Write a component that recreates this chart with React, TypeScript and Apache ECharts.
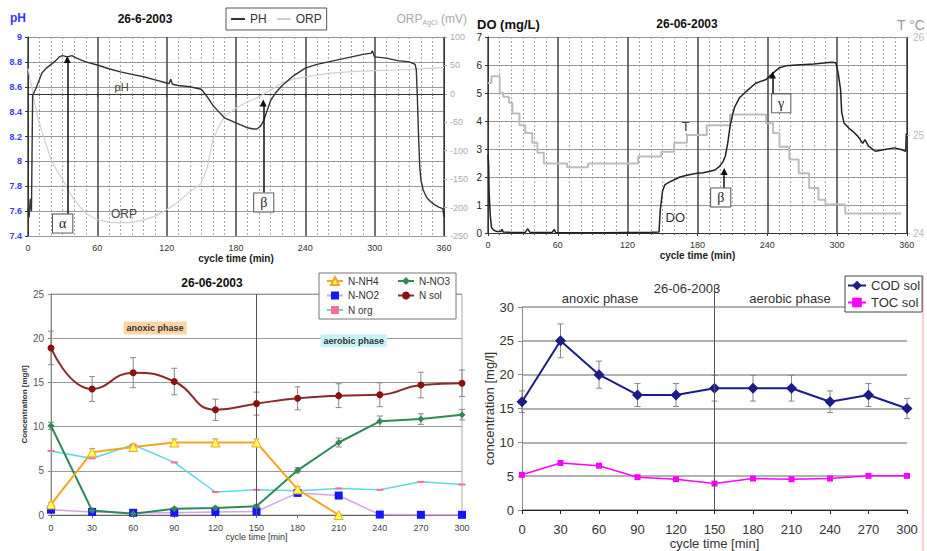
import React, { useEffect, useRef } from 'react';
import * as echarts from 'echarts';

const FONT = 'Liberation Sans';

// ---- Panel 1: pH and ORP profiles (minute, value)
const phProfile: number[][] = [
  [0, 7.62], [1, 7.55], [2, 7.7], [3, 7.6], [4, 8.53], [7, 8.59], [10, 8.66], [12, 8.71], [16, 8.75], [20, 8.78],
  [24, 8.81], [27, 8.84], [30, 8.85], [34, 8.84], [38, 8.85], [42, 8.83], [50, 8.8], [60, 8.775], [70, 8.745],
  [80, 8.72], [90, 8.7], [100, 8.68], [110, 8.655], [120, 8.63], [122, 8.625], [123.5, 8.66], [125, 8.62],
  [130, 8.61], [140, 8.6], [150, 8.58], [155, 8.52], [160, 8.45], [165, 8.4], [170, 8.35], [175, 8.33],
  [180, 8.31], [185, 8.29], [190, 8.27], [195, 8.26], [198, 8.26], [201, 8.28], [204, 8.33], [207, 8.41],
  [210, 8.49], [215, 8.56], [220, 8.61], [225, 8.65], [230, 8.69], [235, 8.72], [240, 8.75], [250, 8.78],
  [260, 8.8], [270, 8.82], [280, 8.84], [290, 8.86], [297, 8.87], [298, 8.89], [300, 8.84], [310, 8.83],
  [320, 8.81], [330, 8.8], [335, 8.78], [336, 8.74], [337, 8.5], [338, 8.2], [339, 7.96], [340, 7.85],
  [342, 7.77], [345, 7.71], [348, 7.68], [352, 7.65], [356, 7.63], [359, 7.62], [360, 7.55]
];
const orpProfile: number[][] = [
  [0, 45], [3, 15], [6, -18], [9, -45], [12, -66], [15, -85], [20, -116], [25, -135], [30, -151], [35, -170],
  [40, -186], [45, -199], [50, -210], [55, -216], [60, -221], [70, -226], [80, -227], [90, -226], [100, -222],
  [110, -215], [120, -204], [130, -190], [140, -172], [150, -157], [155, -130], [160, -81], [165, -58],
  [170, -40], [175, -32], [180, -25], [190, -14], [200, -5], [210, 7], [220, 19], [230, 26], [240, 30],
  [250, 33], [260, 36], [280, 39], [300, 41], [320, 42], [340, 44], [360, 46]
];

// ---- Panel 2: DO and temperature profiles
const doProfile: number[][] = [
  [0, 2.8], [0.5, 2.5], [1, 1.4], [2, 0.6], [3, 0.2], [5, 0.1], [8, 0.05], [11, 0.05], [12, 0.13], [13, 0.04],
  [20, 0.02], [32, 0.02], [34, 0.15], [36, 0.03], [55, 0.02], [57, 0.13], [58, 0.02], [80, 0.01], [100, 0.01],
  [120, 0.02], [140, 0.03], [147, 0.04], [148, 0.8], [150, 1.5], [152, 1.72], [155, 1.8], [160, 1.9],
  [165, 2.0], [170, 2.05], [175, 2.1], [180, 2.13], [185, 2.15], [190, 2.2], [195, 2.25], [199, 2.38],
  [202, 2.55], [204, 2.75], [206, 3.2], [208, 3.8], [210, 4.2], [212, 4.5], [216, 4.82], [222, 5.06],
  [230, 5.35], [239, 5.48], [245, 5.71], [250, 5.89], [256, 5.97], [265, 6.0], [280, 6.04], [295, 6.1],
  [299, 6.08], [301, 5.7], [303, 5.12], [304, 4.3], [306, 3.93], [310, 3.75], [313, 3.65], [318, 3.45],
  [322, 3.2], [324, 3.33], [327, 3.1], [333, 2.92], [341, 2.98], [349, 3.04], [355, 2.98], [359, 2.92],
  [359.5, 3.55]
];
const tempProfile: number[][] = [
  [0, 25.53], [3, 25.6], [10, 25.43], [13, 25.39], [18, 25.33], [21, 25.22], [27, 25.1], [32, 25.02],
  [38, 24.92], [42.5, 24.82], [48, 24.71], [68, 24.67], [86, 24.71], [129, 24.78], [149, 24.83], [160, 24.92],
  [171, 25.0], [188, 25.1], [208, 25.21], [239, 25.12], [245, 25.02], [250.5, 24.88], [259, 24.75],
  [267, 24.61], [276, 24.46], [284, 24.34], [290, 24.29], [307, 24.2], [355, 24.2]
];

// ---- Panels 3 & 4: sampled concentrations
const sampleTimes = [0, 30, 60, 90, 120, 150, 180, 210, 240, 270, 300];
const nNH4 = [1.2, 7.1, 7.7, 8.2, 8.2, 8.2, 2.9, 0, null, null, null];
const nNH4Err = [0.2, 0.4, 0.3, 0.4, 0.4, 0.4, 0.3, 0.1, 0, 0, 0];
const nNO3 = [10.1, 0.5, 0.15, 0.7, 0.8, 1.0, 5.05, 8.2, 10.6, 10.85, 11.35];
const nNO3Err = [0.4, 0.15, 0.1, 0.15, 0.15, 0.2, 0.3, 0.5, 0.6, 0.6, 0.6];
const nNO2 = [0.6, 0.35, 0.25, 0.25, 0.35, 0.4, 2.5, 2.2, 0.05, 0.02, 0.02];
const nSol = [18.9, 14.25, 16.1, 15.1, 11.9, 12.6, 13.2, 13.5, 13.6, 14.7, 14.9];
const nSolErr = [1.9, 1.4, 1.7, 1.5, 1.2, 1.3, 1.3, 1.35, 1.35, 1.45, 1.5];
const nOrg = [7.25, 6.4, 7.95, 5.95, 2.6, 2.85, 2.75, 3.0, 2.85, 3.75, 3.45];
const codSol = [16, 25, 20, 17, 17, 18, 18, 18, 16, 17, 15];
const codErr = [1.6, 2.5, 2, 1.7, 1.7, 1.9, 1.9, 1.9, 1.6, 1.7, 1.5];
const tocSol = [5.2, 6.95, 6.55, 4.85, 4.55, 3.9, 4.65, 4.55, 4.65, 5.05, 5.05];

const pairs = (vals: (number | null)[]) => sampleTimes.map((t, i) => [t, vals[i]]);
const errData = (vals: (number | null)[], errs: number[]) =>
  sampleTimes
    .map((t, i) => (vals[i] == null ? null : [t, (vals[i] as number) - errs[i], (vals[i] as number) + errs[i]]))
    .filter((d) => d !== null);

const errRender = (color: string) => (params: any, api: any) => {
  const x = api.value(0);
  const a = api.coord([x, api.value(1)]);
  const b = api.coord([x, api.value(2)]);
  const w = 3;
  const st = { stroke: color, lineWidth: 1 };
  return {
    type: 'group',
    children: [
      { type: 'line', shape: { x1: a[0], y1: a[1], x2: b[0], y2: b[1] }, style: st },
      { type: 'line', shape: { x1: a[0] - w, y1: a[1], x2: a[0] + w, y2: a[1] }, style: st },
      { type: 'line', shape: { x1: b[0] - w, y1: b[1], x2: b[0] + w, y2: b[1] }, style: st }
    ]
  };
};

const boxLabel = (text: string, coord: number[]) => ({
  coord,
  label: {
    show: true, position: 'inside', formatter: text, fontFamily: 'Liberation Serif', fontSize: 14,
    color: '#222', backgroundColor: '#fff', borderColor: '#555', borderWidth: 1, padding: [2, 6]
  }
});
const plainLabel = (text: string, coord: number[], size: number, color: string, extra: any = {}) => ({
  coord,
  label: { show: true, position: 'inside', formatter: text, fontFamily: FONT, fontSize: size, color, ...extra }
});
const arrow = (x: number, y0: number, y1: number) => [{ coord: [x, y0] }, { coord: [x, y1] }];

const markPointBase = { symbol: 'circle', symbolSize: 1, itemStyle: { color: 'rgba(0,0,0,0)' }, silent: true };
const arrowLineBase = {
  silent: true, symbol: ['none', 'triangle'], symbolSize: 7,
  lineStyle: { color: '#111', width: 1.5, type: 'solid' }, label: { show: false }
};

const timeAxis = (gridIndex: number) => ({
  gridIndex, type: 'value', min: 0, max: 360, interval: 60,
  axisLine: { lineStyle: { color: '#333' } },
  axisTick: { show: true, length: 3, lineStyle: { color: '#333' } },
  minorTick: { show: true, splitNumber: 6, length: 2, lineStyle: { color: '#555' } },
  splitLine: { show: true, lineStyle: { color: '#444', width: 1.5 } },
  minorSplitLine: { show: true, lineStyle: { color: '#aaa', type: [2, 2] } },
  axisLabel: { fontSize: 9, color: '#333', margin: 7, fontFamily: FONT },
  name: 'cycle time (min)', nameLocation: 'middle', nameGap: 17,
  nameTextStyle: { fontWeight: 'bold', fontSize: 10, color: '#222', fontFamily: FONT }
});

export default function App() {
  const ref = useRef<HTMLDivElement>(null);
  useEffect(() => {
    if (!ref.current) return;
    const chart = echarts.init(ref.current, undefined, { renderer: 'svg' });
    const option: any = {
      animation: false,
      textStyle: { fontFamily: FONT },
      grid: [
        { left: 28, top: 37, width: 416, height: 199 },
        { left: 488, top: 37, width: 424, height: 196 },
        { left: 51, top: 294, width: 411, height: 221, show: true, borderColor: '#aaa', borderWidth: 1 },
        { left: 522, top: 307, width: 385, height: 205 }
      ],
      xAxis: [
        timeAxis(0),
        timeAxis(1),
        {
          gridIndex: 2, type: 'value', min: 0, max: 300, interval: 30,
          axisLine: { lineStyle: { color: '#666' } }, axisTick: { length: 3 },
          splitLine: { show: false },
          axisLabel: { fontSize: 9, color: '#444', margin: 8 },
          name: 'cycle time [min]', nameLocation: 'middle', nameGap: 16,
          nameTextStyle: { fontSize: 9, color: '#333' }
        },
        {
          gridIndex: 3, type: 'value', min: 0, max: 300, interval: 30,
          axisLine: { lineStyle: { color: '#222' } }, axisTick: { length: 4, lineStyle: { color: '#222' } },
          splitLine: { show: false },
          axisLabel: { fontSize: 13, color: '#333', margin: 13 },
          name: 'cycle time [min]', nameLocation: 'middle', nameGap: 27,
          nameTextStyle: { fontSize: 13, color: '#333' }
        }
      ],
      yAxis: [
        {
          gridIndex: 0, type: 'value', min: 7.4, max: 9, interval: 0.2, position: 'left',
          axisLine: { show: true, lineStyle: { color: '#333' } }, axisTick: { show: true, length: 3 },
          axisLabel: { fontSize: 9, color: '#3a3aff', fontWeight: 'bold', margin: 6, formatter: (v: number) => String(+v.toFixed(1)) },
          splitLine: { show: true, lineStyle: { color: '#999' } }
        },
        {
          gridIndex: 0, type: 'value', min: -250, max: 100, interval: 50, position: 'right',
          axisLine: { show: true, lineStyle: { color: '#333' } },
          axisTick: { show: true, length: 3, lineStyle: { color: '#aaa' } },
          axisLabel: { fontSize: 9, color: '#aaa', margin: 6 },
          splitLine: { show: false }
        },
        {
          gridIndex: 1, type: 'value', min: 0, max: 7, interval: 1, position: 'left',
          axisLine: { show: true, lineStyle: { color: '#333' } }, axisTick: { show: true, length: 3 },
          axisLabel: { fontSize: 10, color: '#222', margin: 6 },
          splitLine: { show: true, lineStyle: { color: '#999', width: 1.2 } }
        },
        {
          gridIndex: 1, type: 'value', min: 24, max: 26, interval: 1, position: 'right',
          axisLine: { show: true, lineStyle: { color: '#333' } },
          axisTick: { show: true, length: 3, lineStyle: { color: '#bbb' } },
          axisLabel: { fontSize: 10, color: '#bbb', margin: 6 },
          splitLine: { show: false }
        },
        {
          gridIndex: 2, type: 'value', min: 0, max: 25, interval: 5,
          axisLine: { show: true, lineStyle: { color: '#888' } }, axisTick: { show: true, length: 3 },
          axisLabel: { fontSize: 10, color: '#555', margin: 7 },
          splitLine: { show: true, lineStyle: { color: '#999' } },
          name: 'Concentration [mg/l]', nameLocation: 'middle', nameGap: 21, nameRotate: 90,
          nameTextStyle: { fontSize: 8, fontWeight: 'bold', color: '#333' }
        },
        {
          gridIndex: 3, type: 'value', min: 0, max: 30, interval: 5,
          axisLine: { show: true, lineStyle: { color: '#888' } }, axisTick: { show: true, length: 4 },
          axisLabel: { fontSize: 13, color: '#333', margin: 8 },
          splitLine: { show: true, lineStyle: { color: '#999', width: 1.5 } },
          name: 'concentration [mg/l]', nameLocation: 'middle', nameGap: 24, nameRotate: 90,
          nameTextStyle: { fontSize: 13, color: '#333' }
        }
      ],
      legend: [
        {
          data: [{ name: 'PH', icon: 'rect' }, { name: 'ORP', icon: 'rect' }],
          left: 226, top: 8, itemWidth: 14, itemHeight: 2, itemGap: 10, selectedMode: false,
          borderColor: '#555', borderWidth: 1, padding: [5, 5],
          textStyle: { fontSize: 12, color: '#333', fontFamily: FONT }
        },
        {
          data: ['N-NH4', 'N-NO2', 'N org'], orient: 'vertical', left: 326, top: 276,
          itemWidth: 16, itemHeight: 10, itemGap: 4.5, selectedMode: false, z: 10, padding: 0,
          textStyle: { fontSize: 10, color: '#333', fontFamily: FONT }
        },
        {
          data: ['N-NO3', 'N sol'], orient: 'vertical', left: 397, top: 276,
          itemWidth: 16, itemHeight: 10, itemGap: 4.5, selectedMode: false, z: 10, padding: 0,
          textStyle: { fontSize: 10, color: '#333', fontFamily: FONT }
        },
        {
          data: ['COD sol', 'TOC sol'], orient: 'vertical', left: 845, top: 276,
          itemWidth: 18, itemHeight: 12, itemGap: 4, selectedMode: false, z: 10,
          borderColor: '#444', borderWidth: 1, padding: [3, 2], backgroundColor: '#fff',
          textStyle: { fontSize: 13, color: '#333', fontFamily: FONT }
        }
      ],
      series: [
        {
          name: 'PH', type: 'line', xAxisIndex: 0, yAxisIndex: 0, data: phProfile, showSymbol: false,
          lineStyle: { color: '#333', width: 1.4 }, itemStyle: { color: '#333' }, z: 3,
          markPoint: {
            ...markPointBase,
            data: [
              boxLabel('α', [30, 7.5]),
              boxLabel('β', [204, 7.67]),
              plainLabel('pH', [81, 8.6], 11, '#444'),
              plainLabel('ORP', [83, 7.58], 12, '#444')
            ]
          },
          markLine: { ...arrowLineBase, data: [arrow(34, 7.57, 8.82), arrow(203.6, 7.75, 8.47)] }
        },
        {
          name: 'ORP', type: 'line', xAxisIndex: 0, yAxisIndex: 1, data: orpProfile, showSymbol: false,
          lineStyle: { color: '#d0d0d0', width: 1.2 }, itemStyle: { color: '#d0d0d0' }, z: 2
        },
        {
          name: 'DO', type: 'line', xAxisIndex: 1, yAxisIndex: 2, data: doProfile, showSymbol: false,
          lineStyle: { color: '#222', width: 1.5 }, z: 3,
          markPoint: {
            ...markPointBase,
            data: [
              boxLabel('β', [200, 1.27]),
              boxLabel('γ', [252, 4.63]),
              plainLabel('T', [170, 3.79], 13, '#444'),
              plainLabel('DO', [161, 0.54], 13, '#333')
            ]
          },
          markLine: { ...arrowLineBase, data: [arrow(203, 1.55, 2.2), arrow(244.5, 4.35, 5.64)] }
        },
        {
          name: 'T', type: 'line', xAxisIndex: 1, yAxisIndex: 3, data: tempProfile, showSymbol: false,
          step: 'end', lineStyle: { color: '#bdbdbd', width: 2 }, z: 2
        },
        {
          name: 'errNsol', type: 'custom', xAxisIndex: 2, yAxisIndex: 4, data: errData(nSol, nSolErr),
          encode: { x: 0, y: [1, 2] }, renderItem: errRender('#888'), z: 2
        },
        {
          name: 'errNO3', type: 'custom', xAxisIndex: 2, yAxisIndex: 4, data: errData(nNO3, nNO3Err),
          encode: { x: 0, y: [1, 2] }, renderItem: errRender('#888'), z: 2
        },
        {
          name: 'errNH4', type: 'custom', xAxisIndex: 2, yAxisIndex: 4, data: errData(nNH4, nNH4Err),
          encode: { x: 0, y: [1, 2] }, renderItem: errRender('#999'), z: 2
        },
        {
          name: 'N org', type: 'line', xAxisIndex: 2, yAxisIndex: 4, data: pairs(nOrg),
          symbol: 'rect', symbolSize: [7, 2], lineStyle: { color: '#5ad8e6', width: 1.5 },
          itemStyle: { color: '#ff6f91' }, z: 3
        },
        {
          name: 'N-NO2', type: 'line', xAxisIndex: 2, yAxisIndex: 4, data: pairs(nNO2),
          symbol: 'rect', symbolSize: 8, lineStyle: { color: '#d4a6e6', width: 1.5 },
          itemStyle: { color: '#1515ff' }, z: 4
        },
        {
          name: 'N-NO3', type: 'line', xAxisIndex: 2, yAxisIndex: 4, data: pairs(nNO3),
          symbol: 'diamond', symbolSize: 7, lineStyle: { color: '#2e8b57', width: 2 },
          itemStyle: { color: '#2e8b57' }, z: 4
        },
        {
          name: 'N-NH4', type: 'line', xAxisIndex: 2, yAxisIndex: 4, data: pairs(nNH4),
          symbol: 'triangle', symbolSize: 9, lineStyle: { color: '#f5a623', width: 2 },
          itemStyle: { color: '#ffff55', borderColor: '#f5a623', borderWidth: 1 }, z: 5
        },
        {
          name: 'N sol', type: 'line', xAxisIndex: 2, yAxisIndex: 4, data: pairs(nSol), smooth: 0.5,
          symbol: 'circle', symbolSize: 7, lineStyle: { color: '#8b2a2a', width: 2 },
          itemStyle: { color: '#8b1010' }, z: 5,
          markLine: {
            silent: true, symbol: ['none', 'none'], label: { show: false },
            lineStyle: { color: '#555', width: 1, type: 'solid' }, data: [{ xAxis: 150 }]
          },
          markPoint: {
            ...markPointBase,
            data: [
              plainLabel('anoxic phase', [76, 21.15], 9, '#333', { fontWeight: 'bold', backgroundColor: '#fcd5a4', padding: [2, 3] }),
              plainLabel('aerobic phase', [221, 19.7], 9, '#333', { fontWeight: 'bold', backgroundColor: '#c8f2f8', padding: [2, 3] })
            ]
          }
        },
        {
          name: 'errCOD', type: 'custom', xAxisIndex: 3, yAxisIndex: 5, data: errData(codSol, codErr),
          encode: { x: 0, y: [1, 2] }, renderItem: errRender('#888'), z: 2
        },
        {
          name: 'COD sol', type: 'line', xAxisIndex: 3, yAxisIndex: 5, data: pairs(codSol),
          symbol: 'diamond', symbolSize: 11, lineStyle: { color: '#1c1c8a', width: 2 },
          itemStyle: { color: '#1c1c8a' }, z: 4,
          markLine: {
            silent: true, symbol: ['none', 'none'], label: { show: false },
            lineStyle: { color: '#555', width: 1, type: 'solid' }, data: [{ xAxis: 150 }]
          }
        },
        {
          name: 'TOC sol', type: 'line', xAxisIndex: 3, yAxisIndex: 5, data: pairs(tocSol),
          symbol: 'rect', symbolSize: 6, lineStyle: { color: '#ff00ff', width: 1.5 },
          itemStyle: { color: '#ff00ff' }, z: 4
        }
      ],
      graphic: [
        { type: 'text', x: 10, y: 18, style: { text: 'pH', fill: '#3333ff', fontSize: 12, fontWeight: 'bold', fontFamily: FONT, textAlign: 'left', textVerticalAlign: 'middle', align: 'left', verticalAlign: 'middle' } },
        { type: 'text', x: 145, y: 19, style: { text: '26-6-2003', fill: '#111', fontSize: 12, fontWeight: 'bold', fontFamily: FONT, textAlign: 'center', textVerticalAlign: 'middle', align: 'center', verticalAlign: 'middle' } },
        {
          type: 'text', x: 467, y: 19,
          style: {
            text: '{a|ORP}{b|AgCl}{a| (mV)}', textAlign: 'right', textVerticalAlign: 'middle', align: 'right', verticalAlign: 'middle',
            rich: {
              a: { fontSize: 12, fill: '#aaa', color: '#aaa', fontFamily: FONT },
              b: { fontSize: 7, fill: '#aaa', color: '#aaa', fontFamily: FONT, padding: [6, 0, 0, 0] }
            }
          }
        },
        { type: 'text', x: 477, y: 24, style: { text: 'DO (mg/L)', fill: '#111', fontSize: 13, fontWeight: 'bold', fontFamily: FONT, textAlign: 'left', textVerticalAlign: 'middle', align: 'left', verticalAlign: 'middle' } },
        { type: 'text', x: 687, y: 24, style: { text: '26-06-2003', fill: '#111', fontSize: 12, fontWeight: 'bold', fontFamily: FONT, textAlign: 'center', textVerticalAlign: 'middle', align: 'center', verticalAlign: 'middle' } },
        { type: 'text', x: 897, y: 25, style: { text: 'T °C', fill: '#999', fontSize: 14, fontFamily: FONT, textAlign: 'left', textVerticalAlign: 'middle', align: 'left', verticalAlign: 'middle' } },
        { type: 'text', x: 212, y: 283, style: { text: '26-06-2003', fill: '#111', fontSize: 12, fontWeight: 'bold', fontFamily: FONT, textAlign: 'center', textVerticalAlign: 'middle', align: 'center', verticalAlign: 'middle' } },
        { type: 'rect', z: 3, shape: { x: 319, y: 273, width: 137, height: 46 }, style: { fill: '#fff', stroke: '#777', lineWidth: 1 } },
        { type: 'text', x: 687, y: 288, style: { text: '26-06-2003', fill: '#333', fontSize: 13, fontFamily: FONT, textAlign: 'center', textVerticalAlign: 'middle', align: 'center', verticalAlign: 'middle' } },
        { type: 'text', x: 600, y: 298, style: { text: 'anoxic phase', fill: '#333', fontSize: 13, fontFamily: FONT, textAlign: 'center', textVerticalAlign: 'middle', align: 'center', verticalAlign: 'middle' } },
        { type: 'text', x: 790, y: 298, style: { text: 'aerobic phase', fill: '#333', fontSize: 13, fontFamily: FONT, textAlign: 'center', textVerticalAlign: 'middle', align: 'center', verticalAlign: 'middle' } },
        { type: 'line', shape: { x1: 714.5, y1: 285, x2: 714.5, y2: 307 }, style: { stroke: '#555', lineWidth: 1 } },
        { type: 'line', shape: { x1: 923, y1: 275, x2: 923, y2: 551 }, style: { stroke: '#f4a0a0', lineWidth: 1 } }
      ]
    };
    chart.setOption(option);
    return () => chart.dispose();
  }, []);
  return <div ref={ref} style={{ position: 'absolute', left: 0, top: 0, width: 927, height: 551, background: '#fff' }} />;
}
